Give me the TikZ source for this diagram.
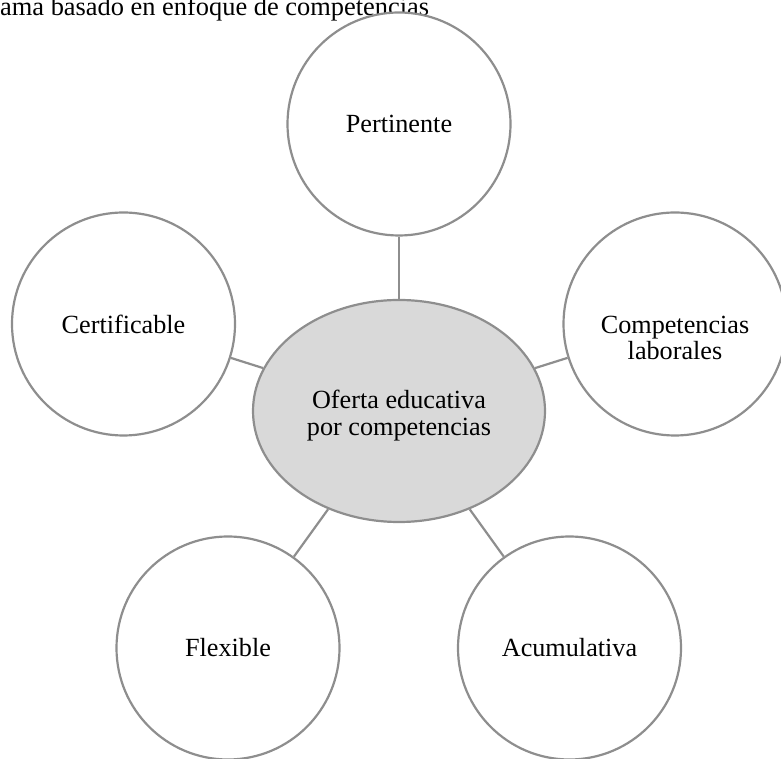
\documentclass[tikz,border=0pt]{standalone}
\usepackage{fontspec}
\setmainfont{Liberation Serif}
\usetikzlibrary{shapes.geometric}
\definecolor{edgecol}{RGB}{142,142,142}
\definecolor{fillcol}{RGB}{217,217,217}
\begin{document}
\begin{tikzpicture}[x=1bp,y=1bp,line join=bevel,
  ring/.style={circle,draw=edgecol,line width=2.2bp,fill=white,inner sep=0pt,
    minimum size=223bp,align=center,font=\fontsize{26.3}{27}\selectfont},
  hub/.style={ellipse,draw=edgecol,line width=2.2bp,fill=fillcol,inner sep=0pt,
    minimum width=292bp,minimum height=222bp},
  twoline/.style={align=center,inner sep=0pt,font=\fontsize{26.3}{27}\selectfont},
  link/.style={draw=edgecol,line width=2.2bp}]
\useasboundingbox (0,0) rectangle (781,759);
%%
  % Title
  \node[anchor=base west,inner sep=0pt,font=\fontsize{26.5}{28}\selectfont] (title) at (0,743) {ama basado en enfoque de competencias};
  % Node: center
  \node[hub,label={[twoline,yshift=-5bp]center:Oferta educativa\\por competencias}] (oferta) at (399,348) {};
  % Node: Pertinente
  \node[ring] (pert) at (399,635) {Pertinente};
  % Node: Certificable
  \node[ring] (cert) at (123.5,435) {Certificable};
  % Node: Competencias laborales
  \node[ring,label={[twoline,yshift=-14bp]center:Competencias\\laborales}] (comp) at (675,435) {};
  % Node: Flexible
  \node[ring] (flex) at (228,111) {Flexible};
  % Node: Acumulativa
  \node[ring] (acum) at (569.5,111) {Acumulativa};
  % Edges
  \draw[link] (oferta) -- (pert);
  \draw[link] (oferta) -- (cert);
  \draw[link] (oferta) -- (comp);
  \draw[link] (oferta) -- (flex);
  \draw[link] (oferta) -- (acum);
%
\end{tikzpicture}
\end{document}
